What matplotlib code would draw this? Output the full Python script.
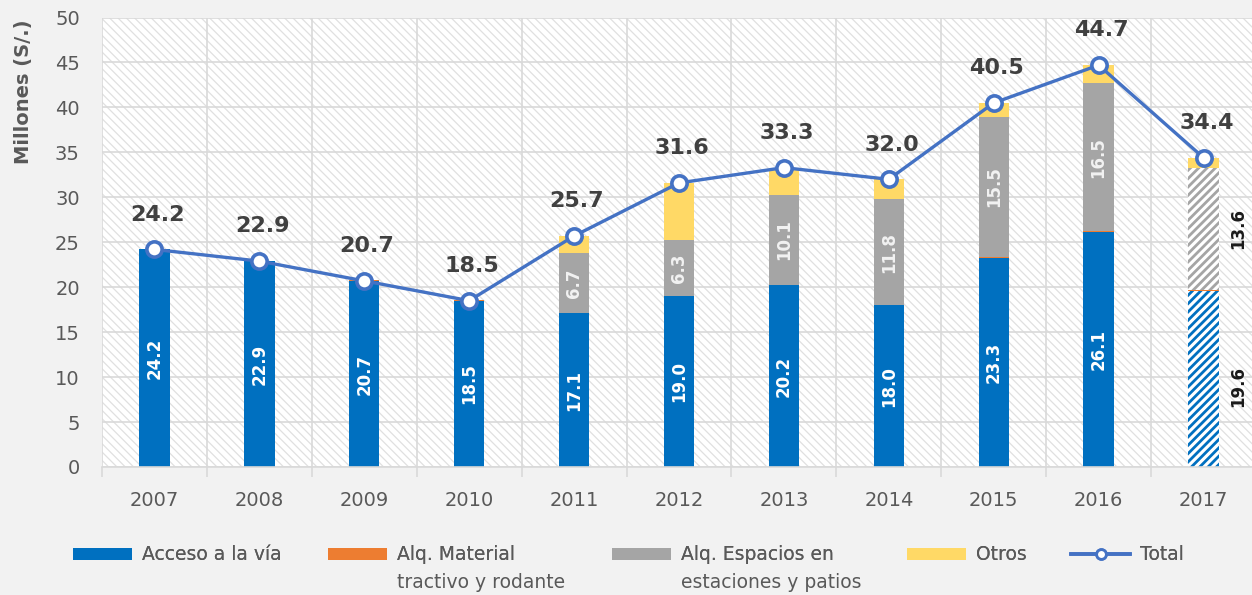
import matplotlib
matplotlib.use('Agg')
import matplotlib.pyplot as plt
from matplotlib.patches import Rectangle, Patch
from matplotlib.lines import Line2D
import numpy as np

# ---------------- data ----------------
years = ['2007', '2008', '2009', '2010', '2011', '2012', '2013', '2014', '2015', '2016', '2017']
acceso = [24.2, 22.9, 20.7, 18.5, 17.1, 19.0, 20.2, 18.0, 23.3, 26.1, 19.6]
material = [0.05, 0.05, 0.05, 0.05, 0.0, 0.0, 0.0, 0.0, 0.1, 0.1, 0.1]
espacios = [0.0, 0.0, 0.0, 0.0, 6.7, 6.3, 10.1, 11.8, 15.5, 16.5, 13.6]
otros = [0.0, 0.0, 0.0, 0.0, 1.9, 6.3, 3.0, 2.2, 1.6, 2.0, 1.1]
total = [24.2, 22.9, 20.7, 18.5, 25.7, 31.6, 33.3, 32.0, 40.5, 44.7, 34.4]
y_ticks = [0, 5, 10, 15, 20, 25, 30, 35, 40, 45, 50]
series_names = ['Acceso a la vía', 'Alq. Material', 'Alq. Espacios en', 'Otros', 'Total']
series_second_line = ['', 'tractivo y rodante', 'estaciones y patios', '', '']

# ---------------- style ----------------
C_BLUE = '#0070c0'
C_ORANGE = '#ed7d31'
C_GRAY = '#a5a5a5'
C_YELLOW = '#ffd966'
C_LINE = '#4472c4'
C_TEXT = '#595959'
C_GRID = '#d9d9d9'
FONT = 'DejaVu Sans'

plt.rcParams['hatch.linewidth'] = 0.9

W, H = 1252, 595
fig = plt.figure(figsize=(W / 100, H / 100), dpi=100, facecolor='#f2f2f2')
left, right, top, bottom = 102, 1256, 17.5, 467
ax = fig.add_axes([left / W, 1 - bottom / H, (right - left) / W, (bottom - top) / H])
ax.set_facecolor('white')

# hatched plot-area background
bg = Rectangle((0, 0), 1, 1, transform=ax.transAxes, facecolor='white',
               edgecolor='#e0e0e0', hatch='\\\\\\\\', lw=0, zorder=0)
ax.add_patch(bg)

x = np.arange(len(years))
bw = 0.29
base = np.zeros(len(years))
layers = [(acceso, C_BLUE), (material, C_ORANGE), (espacios, C_GRAY), (otros, C_YELLOW)]
containers = []
for vals, col in layers:
    vals = np.array(vals)
    bc = ax.bar(x, vals, bw, bottom=base, color=col, lw=0, zorder=2)
    containers.append((bc, col))
    base = base + vals

# projected year (2017) drawn hatched
for bc, col in containers:
    p = bc.patches[-1]
    if col in (C_BLUE, C_GRAY):
        p.set_facecolor('white')
        p.set_edgecolor(col)
        p.set_hatch('////')
        p.set_linewidth(0)
        if hasattr(p, 'set_hatch_linewidth'):
            p.set_hatch_linewidth(2.0)

# total line
ax.plot(x, total, color=C_LINE, lw=2.4, marker='o', ms=11, mfc='white',
        mec=C_LINE, mew=2.6, zorder=5)

for xi, v in zip(x, total):
    ax.annotate(f'{v:.1f}', (xi, v), xytext=(2, 25), textcoords='offset points',
                ha='center', va='center', fontsize=16, fontweight='bold',
                color='#404040', zorder=6, family=FONT)

# inside labels
acc = np.array(acceso)
mat = np.array(material)
esp = np.array(espacios)
for i in range(len(years)):
    if i < len(years) - 1:
        ax.text(x[i], acc[i] / 2, f'{acc[i]:.1f}', rotation=90, ha='center', va='center',
                color='white', fontsize=12, fontweight='bold', zorder=4, family=FONT)
        if esp[i] > 0:
            ax.text(x[i], acc[i] + mat[i] + esp[i] / 2, f'{esp[i]:.1f}', rotation=90,
                    ha='center', va='center', color='#f2f2f2', fontsize=12,
                    fontweight='bold', zorder=4, family=FONT)
    else:
        ax.text(x[i] + 0.33, acc[i] / 2 - 0.8, f'{acc[i]:.1f}', rotation=90, ha='center',
                va='center', color='#1a1a1a', fontsize=12, fontweight='bold', zorder=4,
                family=FONT)
        ax.text(x[i] + 0.33, acc[i] + mat[i] + esp[i] / 2, f'{esp[i]:.1f}', rotation=90,
                ha='center', va='center', color='#1a1a1a', fontsize=12,
                fontweight='bold', zorder=4, family=FONT)

# axes
ax.set_xlim(-0.5, len(years) - 0.5)
ax.set_ylim(0, 50)
ax.set_yticks(y_ticks)
ax.set_xticks(x, years)
ax.set_xticks(np.arange(-0.5, len(years), 1), minor=True)
ax.set_axisbelow(True)
ax.grid(axis='y', which='major', color=C_GRID, lw=1.2, zorder=1)
ax.grid(axis='x', which='minor', color=C_GRID, lw=1.2, zorder=1)
ax.grid(axis='x', which='major', visible=False)
for s in ['top', 'right', 'left']:
    ax.spines[s].set_visible(False)
ax.spines['bottom'].set_color(C_GRID)
ax.spines['bottom'].set_linewidth(1.2)
ax.tick_params(axis='y', length=0, pad=16, labelcolor=C_TEXT, labelsize=14)
ax.tick_params(axis='x', which='major', length=0, pad=17, labelcolor=C_TEXT, labelsize=14)
ax.tick_params(axis='x', which='minor', length=7, width=1.2, color=C_GRID)
for lab in ax.get_xticklabels() + ax.get_yticklabels():
    lab.set_fontfamily(FONT)

fig.text(24 / W, 1 - 92 / H, 'Millones (S/.)', rotation=90, ha='center', va='center',
         fontsize=14, fontweight='bold', color=C_TEXT, family=FONT)

# legend
handles = [Patch(facecolor=C_BLUE), Patch(facecolor=C_ORANGE), Patch(facecolor=C_GRAY),
           Patch(facecolor=C_YELLOW),
           Line2D([], [], color=C_LINE, lw=2.6, marker='o', ms=7, mfc='white', mec=C_LINE, mew=2)]
hx = [72.7, 327.7, 611.7, 907, 1071]
fs = 13.5
hl = 59 / (fs * 100 / 72)
legs = []
for h, name, xp in zip(handles, series_names, hx):
    leg = fig.legend([h], [name], loc='center left', bbox_to_anchor=(xp / W, 1 - 555 / H),
                     frameon=False, borderpad=0, borderaxespad=0, handlelength=hl,
                     handleheight=0.6, handletextpad=0.55,
                     prop={'family': FONT, 'size': fs})
    for t in leg.get_texts():
        t.set_color(C_TEXT)
    fig.add_artist(leg)
    legs.append(leg)

fig.canvas.draw()
for leg, sub in zip(legs, series_second_line):
    if sub:
        bb = leg.get_texts()[0].get_window_extent()
        fig.text(bb.x0 / W, 1 - 582 / H, sub, ha='left', va='center', fontsize=fs,
                 family=FONT, color=C_TEXT)

fig.savefig('out.png', dpi=100, facecolor=fig.get_facecolor())
